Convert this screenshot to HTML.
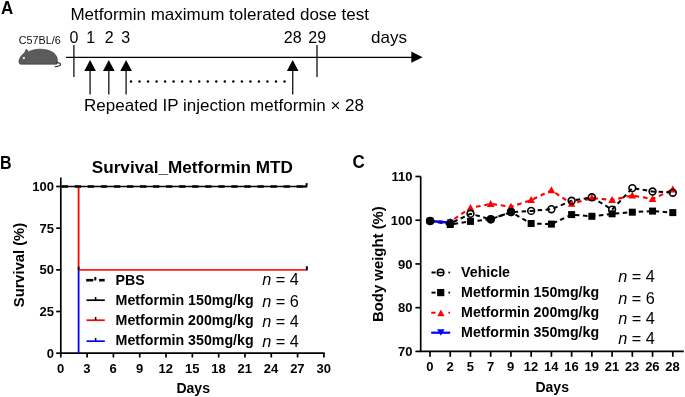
<!DOCTYPE html>
<html><head><meta charset="utf-8"><style>
html,body{margin:0;padding:0;background:#fff;}
svg{display:block;font-family:"Liberation Sans", sans-serif;will-change:transform;}
</style></head><body>
<svg width="685" height="397" viewBox="0 0 685 397">
<rect width="685" height="397" fill="#fff"/>
<text transform="translate(1 13.6) scale(1 1.07)" font-size="17" font-weight="bold">A</text>
<text x="70.4" y="20.1" font-size="17">Metformin maximum tolerated dose test</text>
<text x="18.8" y="43.7" font-size="10.8" fill="#111">C57BL/6</text>
<text x="73.95" y="42.6" font-size="16" text-anchor="middle">0</text>
<text x="90.7" y="42.6" font-size="16" text-anchor="middle">1</text>
<text x="109.2" y="42.6" font-size="16" text-anchor="middle">2</text>
<text x="125.8" y="42.6" font-size="16" text-anchor="middle">3</text>
<text x="292.75" y="42.6" font-size="16" text-anchor="middle">28</text>
<text x="317.25" y="42.6" font-size="16" text-anchor="middle">29</text>
<text x="371.1" y="42.7" font-size="17">days</text>
<line x1="66" y1="57.3" x2="412" y2="57.3" stroke="#000" stroke-width="1.3"/>
<path d="M411.3 51.5 L422.6 57.2 L411.3 62.8 Z" fill="#000"/>
<line x1="73.9" y1="44.9" x2="73.9" y2="77.1" stroke="#111" stroke-width="1.3"/>
<line x1="317" y1="45.1" x2="317" y2="77.1" stroke="#111" stroke-width="1.3"/>
<line x1="90.1" y1="70" x2="90.1" y2="94.6" stroke="#222" stroke-width="1.4"/>
<path d="M90.1 59.9 L95.89999999999999 71 L84.3 71 Z" fill="#000"/>
<line x1="108.8" y1="70" x2="108.8" y2="94.6" stroke="#222" stroke-width="1.4"/>
<path d="M108.8 59.9 L114.6 71 L103.0 71 Z" fill="#000"/>
<line x1="126.1" y1="70" x2="126.1" y2="94.6" stroke="#222" stroke-width="1.4"/>
<path d="M126.1 59.9 L131.9 71 L120.3 71 Z" fill="#000"/>
<line x1="292.7" y1="70" x2="292.7" y2="94.6" stroke="#222" stroke-width="1.4"/>
<path d="M292.7 59.9 L298.5 71 L286.9 71 Z" fill="#000"/>
<circle cx="131.00" cy="81.5" r="1.2" fill="#000"/>
<circle cx="139.53" cy="81.5" r="1.2" fill="#000"/>
<circle cx="148.06" cy="81.5" r="1.2" fill="#000"/>
<circle cx="156.58" cy="81.5" r="1.2" fill="#000"/>
<circle cx="165.11" cy="81.5" r="1.2" fill="#000"/>
<circle cx="173.64" cy="81.5" r="1.2" fill="#000"/>
<circle cx="182.17" cy="81.5" r="1.2" fill="#000"/>
<circle cx="190.69" cy="81.5" r="1.2" fill="#000"/>
<circle cx="199.22" cy="81.5" r="1.2" fill="#000"/>
<circle cx="207.75" cy="81.5" r="1.2" fill="#000"/>
<circle cx="216.28" cy="81.5" r="1.2" fill="#000"/>
<circle cx="224.81" cy="81.5" r="1.2" fill="#000"/>
<circle cx="233.33" cy="81.5" r="1.2" fill="#000"/>
<circle cx="241.86" cy="81.5" r="1.2" fill="#000"/>
<circle cx="250.39" cy="81.5" r="1.2" fill="#000"/>
<circle cx="258.92" cy="81.5" r="1.2" fill="#000"/>
<circle cx="267.44" cy="81.5" r="1.2" fill="#000"/>
<circle cx="275.97" cy="81.5" r="1.2" fill="#000"/>
<circle cx="284.50" cy="81.5" r="1.2" fill="#000"/>
<text x="84.1" y="110.9" font-size="17">Repeated IP injection metformin × 28</text>
<path d="M21 64.2 C19.4 64.2 18.8 62.8 19 60.8 C19.4 58 21.6 55.2 24.8 52.5 L26.3 49 L28.5 51.9 C32 50 35.5 49.2 39.5 49.2 C45 49.2 50 50.3 53.5 52.8 C56.5 55 57.6 58.5 57.4 62 L56.6 64.2 Z" fill="#5b5b5b" stroke="#2a2a2a" stroke-width="0.6"/>
<path d="M56.2 62.6 C58.8 62.6 60.8 63.2 60.5 64.6 C60.2 66 57.2 66.5 54.8 66.8" fill="none" stroke="#222" stroke-width="1.1"/>
<circle cx="23.9" cy="58.1" r="1.1" fill="#fff"/>
<text transform="translate(0.1 168.6) scale(0.9 1)" font-size="17.8" font-weight="bold">B</text>
<text x="91.8" y="172.8" font-size="17.15" font-weight="bold">Survival_Metformin MTD</text>
<line x1="60.8" y1="177.5" x2="60.8" y2="353.2" stroke="#000" stroke-width="1.7"/>
<line x1="59.949999999999996" y1="353.2" x2="324.75" y2="353.2" stroke="#000" stroke-width="1.7"/>
<line x1="56.2" y1="353.20" x2="60.8" y2="353.20" stroke="#000" stroke-width="1.7"/>
<text x="53.9" y="357.80" font-size="13" font-weight="bold" text-anchor="end">0</text>
<line x1="56.2" y1="311.52" x2="60.8" y2="311.52" stroke="#000" stroke-width="1.7"/>
<text x="53.9" y="316.12" font-size="13" font-weight="bold" text-anchor="end">25</text>
<line x1="56.2" y1="269.85" x2="60.8" y2="269.85" stroke="#000" stroke-width="1.7"/>
<text x="53.9" y="274.45" font-size="13" font-weight="bold" text-anchor="end">50</text>
<line x1="56.2" y1="228.17" x2="60.8" y2="228.17" stroke="#000" stroke-width="1.7"/>
<text x="53.9" y="232.77" font-size="13" font-weight="bold" text-anchor="end">75</text>
<line x1="56.2" y1="186.50" x2="60.8" y2="186.50" stroke="#000" stroke-width="1.7"/>
<text x="53.9" y="191.10" font-size="13" font-weight="bold" text-anchor="end">100</text>
<line x1="60.80" y1="353.2" x2="60.80" y2="357.5" stroke="#000" stroke-width="1.7"/>
<text x="60.60" y="372.5" font-size="13" font-weight="bold" text-anchor="middle">0</text>
<line x1="87.11" y1="353.2" x2="87.11" y2="357.5" stroke="#000" stroke-width="1.7"/>
<text x="86.91" y="372.5" font-size="13" font-weight="bold" text-anchor="middle">3</text>
<line x1="113.42" y1="353.2" x2="113.42" y2="357.5" stroke="#000" stroke-width="1.7"/>
<text x="113.22" y="372.5" font-size="13" font-weight="bold" text-anchor="middle">6</text>
<line x1="139.73" y1="353.2" x2="139.73" y2="357.5" stroke="#000" stroke-width="1.7"/>
<text x="139.53" y="372.5" font-size="13" font-weight="bold" text-anchor="middle">9</text>
<line x1="166.04" y1="353.2" x2="166.04" y2="357.5" stroke="#000" stroke-width="1.7"/>
<text x="165.84" y="372.5" font-size="13" font-weight="bold" text-anchor="middle">12</text>
<line x1="192.35" y1="353.2" x2="192.35" y2="357.5" stroke="#000" stroke-width="1.7"/>
<text x="192.15" y="372.5" font-size="13" font-weight="bold" text-anchor="middle">15</text>
<line x1="218.66" y1="353.2" x2="218.66" y2="357.5" stroke="#000" stroke-width="1.7"/>
<text x="218.46" y="372.5" font-size="13" font-weight="bold" text-anchor="middle">18</text>
<line x1="244.97" y1="353.2" x2="244.97" y2="357.5" stroke="#000" stroke-width="1.7"/>
<text x="244.77" y="372.5" font-size="13" font-weight="bold" text-anchor="middle">21</text>
<line x1="271.28" y1="353.2" x2="271.28" y2="357.5" stroke="#000" stroke-width="1.7"/>
<text x="271.08" y="372.5" font-size="13" font-weight="bold" text-anchor="middle">24</text>
<line x1="297.59" y1="353.2" x2="297.59" y2="357.5" stroke="#000" stroke-width="1.7"/>
<text x="297.39" y="372.5" font-size="13" font-weight="bold" text-anchor="middle">27</text>
<line x1="323.90" y1="353.2" x2="323.90" y2="357.5" stroke="#000" stroke-width="1.7"/>
<text x="323.70" y="372.5" font-size="13" font-weight="bold" text-anchor="middle">30</text>
<text x="193.2" y="392.9" font-size="14" font-weight="bold" text-anchor="middle">Days</text>
<text transform="translate(23.8 265.05) rotate(-90)" font-size="14.72" font-weight="bold" text-anchor="middle">Survival (%)</text>
<line x1="78.60" y1="187.5" x2="78.60" y2="269.85" stroke="#f00" stroke-width="1.8"/>
<line x1="77.70" y1="269.85" x2="306.36" y2="269.85" stroke="#ff2020" stroke-width="1.8"/>
<line x1="78.60" y1="270.35" x2="78.60" y2="353.2" stroke="#00f" stroke-width="1.8"/>
<line x1="78.60" y1="266.7" x2="78.60" y2="270.1" stroke="#000" stroke-width="1.8"/>
<line x1="306.86" y1="266.3" x2="306.86" y2="270.4" stroke="#000" stroke-width="2"/>
<line x1="60.8" y1="186.50" x2="306.36" y2="186.50" stroke="#000" stroke-width="1.3"/>
<line x1="61.7" y1="186.50" x2="303.36" y2="186.50" stroke="#000" stroke-width="2.6" stroke-dasharray="6.3 6.75"/>
<path d="M302.36 186.50 L306.36 186.50 L306.76 183.2" fill="none" stroke="#000" stroke-width="2"/>
<line x1="86.2" y1="280.2" x2="93.3" y2="280.2" stroke="#000" stroke-width="2.6"/>
<line x1="99.1" y1="280.2" x2="104.7" y2="280.2" stroke="#000" stroke-width="2.6"/>
<line x1="95.3" y1="277" x2="95.3" y2="280.5" stroke="#000" stroke-width="2"/>
<line x1="86.5" y1="300.2" x2="104.8" y2="300.2" stroke="#000" stroke-width="1.7"/>
<line x1="95.6" y1="297.0" x2="95.6" y2="300.2" stroke="#000" stroke-width="1.5"/>
<line x1="86.5" y1="320.2" x2="104.8" y2="320.2" stroke="#f00" stroke-width="1.7"/>
<line x1="95.6" y1="317.0" x2="95.6" y2="320.2" stroke="#000" stroke-width="1.5"/>
<line x1="86.5" y1="341.2" x2="104.8" y2="341.2" stroke="#00f" stroke-width="1.7"/>
<line x1="95.6" y1="338.0" x2="95.6" y2="341.2" stroke="#000" stroke-width="1.5"/>
<text x="115.6" y="284.7" font-size="14.2" font-weight="bold">PBS</text>
<text x="115.6" y="304.7" font-size="14.2" font-weight="bold">Metformin 150mg/kg</text>
<text x="115.6" y="325" font-size="14.2" font-weight="bold">Metformin 200mg/kg</text>
<text x="115.6" y="345.4" font-size="14.2" font-weight="bold">Metformin 350mg/kg</text>
<text x="262.2" y="284.8" font-size="16.3"><tspan font-style="italic">n</tspan> = 4</text>
<text x="262.2" y="306.5" font-size="16.3"><tspan font-style="italic">n</tspan> = 6</text>
<text x="262.2" y="326.7" font-size="16.3"><tspan font-style="italic">n</tspan> = 4</text>
<text x="262.2" y="346.6" font-size="16.3"><tspan font-style="italic">n</tspan> = 4</text>
<text transform="translate(352.5 167.9) scale(1 1.04)" font-size="17" font-weight="bold">C</text>
<line x1="420.7" y1="176.5" x2="420.7" y2="351.4" stroke="#000" stroke-width="1.7"/>
<line x1="419.84999999999997" y1="351.4" x2="683.8" y2="351.4" stroke="#000" stroke-width="1.7"/>
<line x1="415.4" y1="351.40" x2="420.7" y2="351.40" stroke="#000" stroke-width="1.7"/>
<text x="412.5" y="356.00" font-size="13" font-weight="bold" text-anchor="end">70</text>
<line x1="415.4" y1="307.67" x2="420.7" y2="307.67" stroke="#000" stroke-width="1.7"/>
<text x="412.5" y="312.27" font-size="13" font-weight="bold" text-anchor="end">80</text>
<line x1="415.4" y1="263.95" x2="420.7" y2="263.95" stroke="#000" stroke-width="1.7"/>
<text x="412.5" y="268.55" font-size="13" font-weight="bold" text-anchor="end">90</text>
<line x1="415.4" y1="220.22" x2="420.7" y2="220.22" stroke="#000" stroke-width="1.7"/>
<text x="412.5" y="224.82" font-size="13" font-weight="bold" text-anchor="end">100</text>
<line x1="415.4" y1="176.50" x2="420.7" y2="176.50" stroke="#000" stroke-width="1.7"/>
<text x="412.5" y="181.10" font-size="13" font-weight="bold" text-anchor="end">110</text>
<line x1="430.00" y1="351.4" x2="430.00" y2="356.8" stroke="#000" stroke-width="1.7"/>
<text x="429.80" y="370.8" font-size="13" font-weight="bold" text-anchor="middle">0</text>
<line x1="450.23" y1="351.4" x2="450.23" y2="356.8" stroke="#000" stroke-width="1.7"/>
<text x="450.03" y="370.8" font-size="13" font-weight="bold" text-anchor="middle">2</text>
<line x1="470.47" y1="351.4" x2="470.47" y2="356.8" stroke="#000" stroke-width="1.7"/>
<text x="470.27" y="370.8" font-size="13" font-weight="bold" text-anchor="middle">5</text>
<line x1="490.70" y1="351.4" x2="490.70" y2="356.8" stroke="#000" stroke-width="1.7"/>
<text x="490.50" y="370.8" font-size="13" font-weight="bold" text-anchor="middle">7</text>
<line x1="510.93" y1="351.4" x2="510.93" y2="356.8" stroke="#000" stroke-width="1.7"/>
<text x="510.73" y="370.8" font-size="13" font-weight="bold" text-anchor="middle">9</text>
<line x1="531.16" y1="351.4" x2="531.16" y2="356.8" stroke="#000" stroke-width="1.7"/>
<text x="530.96" y="370.8" font-size="13" font-weight="bold" text-anchor="middle">12</text>
<line x1="551.40" y1="351.4" x2="551.40" y2="356.8" stroke="#000" stroke-width="1.7"/>
<text x="551.20" y="370.8" font-size="13" font-weight="bold" text-anchor="middle">14</text>
<line x1="571.63" y1="351.4" x2="571.63" y2="356.8" stroke="#000" stroke-width="1.7"/>
<text x="571.43" y="370.8" font-size="13" font-weight="bold" text-anchor="middle">16</text>
<line x1="591.86" y1="351.4" x2="591.86" y2="356.8" stroke="#000" stroke-width="1.7"/>
<text x="591.66" y="370.8" font-size="13" font-weight="bold" text-anchor="middle">19</text>
<line x1="612.10" y1="351.4" x2="612.10" y2="356.8" stroke="#000" stroke-width="1.7"/>
<text x="611.90" y="370.8" font-size="13" font-weight="bold" text-anchor="middle">21</text>
<line x1="632.33" y1="351.4" x2="632.33" y2="356.8" stroke="#000" stroke-width="1.7"/>
<text x="632.13" y="370.8" font-size="13" font-weight="bold" text-anchor="middle">23</text>
<line x1="652.56" y1="351.4" x2="652.56" y2="356.8" stroke="#000" stroke-width="1.7"/>
<text x="652.36" y="370.8" font-size="13" font-weight="bold" text-anchor="middle">26</text>
<line x1="672.80" y1="351.4" x2="672.80" y2="356.8" stroke="#000" stroke-width="1.7"/>
<text x="672.60" y="370.8" font-size="13" font-weight="bold" text-anchor="middle">28</text>
<text x="552.2" y="391.6" font-size="14" font-weight="bold" text-anchor="middle">Days</text>
<text transform="translate(382.6 264.1) rotate(-90)" font-size="14.9" font-weight="bold" text-anchor="middle">Body weight (%)</text>
<polyline points="430.00,221.00 450.23,221.80 470.47,207.90 490.70,203.90 510.93,206.70 531.16,200.10 551.40,190.30 571.63,203.80 591.86,198.00 612.10,200.00 632.33,195.50 652.56,199.00 672.80,189.60" fill="none" stroke="#f00" stroke-width="2.1" stroke-dasharray="4.6 3.8"/>
<polyline points="430.00,221.00 450.23,224.50 470.47,221.40 490.70,219.30 510.93,212.10 531.16,223.50 551.40,224.10 571.63,214.60 591.86,216.30 612.10,213.80 632.33,212.20 652.56,211.10 672.80,212.60" fill="none" stroke="#000" stroke-width="2" stroke-dasharray="4.5 3.5"/>
<polyline points="430.00,221.00 450.23,223.50 470.47,213.80 490.70,219.30 510.93,212.10 531.16,210.90 551.40,209.20 571.63,200.80 591.86,197.30 612.10,209.60 632.33,188.10 652.56,191.50 672.80,192.70" fill="none" stroke="#000" stroke-width="2" stroke-dasharray="4.5 3.5"/>
<polyline points="430.00,221.00 450.23,222.80" fill="none" stroke="#00f" stroke-width="2.6"/>
<path d="M430.00 217.00 L433.80 224.00 L426.20 224.00 Z" fill="#f00"/>
<path d="M450.23 217.80 L454.03 224.80 L446.43 224.80 Z" fill="#f00"/>
<path d="M470.47 203.90 L474.27 210.90 L466.67 210.90 Z" fill="#f00"/>
<path d="M490.70 199.90 L494.50 206.90 L486.90 206.90 Z" fill="#f00"/>
<path d="M510.93 202.70 L514.73 209.70 L507.13 209.70 Z" fill="#f00"/>
<path d="M531.16 196.10 L534.96 203.10 L527.37 203.10 Z" fill="#f00"/>
<path d="M551.40 186.30 L555.20 193.30 L547.60 193.30 Z" fill="#f00"/>
<path d="M571.63 199.80 L575.43 206.80 L567.83 206.80 Z" fill="#f00"/>
<path d="M591.86 194.00 L595.66 201.00 L588.06 201.00 Z" fill="#f00"/>
<path d="M612.10 196.00 L615.90 203.00 L608.30 203.00 Z" fill="#f00"/>
<path d="M632.33 191.50 L636.13 198.50 L628.53 198.50 Z" fill="#f00"/>
<path d="M652.56 195.00 L656.36 202.00 L648.76 202.00 Z" fill="#f00"/>
<path d="M672.80 185.60 L676.60 192.60 L669.00 192.60 Z" fill="#f00"/>
<path d="M426.30 217.70 L433.70 217.70 L430.00 224.20 Z" fill="#00f"/>
<path d="M446.53 219.50 L453.93 219.50 L450.23 226.00 Z" fill="#00f"/>
<rect x="446.73" y="221.00" width="7" height="7" fill="#000"/>
<rect x="466.97" y="217.90" width="7" height="7" fill="#000"/>
<rect x="527.66" y="220.00" width="7" height="7" fill="#000"/>
<rect x="547.90" y="220.60" width="7" height="7" fill="#000"/>
<rect x="568.13" y="211.10" width="7" height="7" fill="#000"/>
<rect x="588.36" y="212.80" width="7" height="7" fill="#000"/>
<rect x="608.60" y="210.30" width="7" height="7" fill="#000"/>
<rect x="628.83" y="208.70" width="7" height="7" fill="#000"/>
<rect x="649.06" y="207.60" width="7" height="7" fill="#000"/>
<rect x="669.30" y="209.10" width="7" height="7" fill="#000"/>
<circle cx="430.00" cy="221.00" r="3.4" fill="none" stroke="#000" stroke-width="1.6"/>
<circle cx="450.23" cy="223.50" r="3.4" fill="none" stroke="#000" stroke-width="1.6"/>
<circle cx="470.47" cy="213.80" r="3.4" fill="none" stroke="#000" stroke-width="1.6"/>
<circle cx="490.70" cy="219.30" r="3.4" fill="none" stroke="#000" stroke-width="1.6"/>
<circle cx="510.93" cy="212.10" r="3.4" fill="none" stroke="#000" stroke-width="1.6"/>
<circle cx="531.16" cy="210.90" r="3.4" fill="none" stroke="#000" stroke-width="1.6"/>
<circle cx="551.40" cy="209.20" r="3.4" fill="none" stroke="#000" stroke-width="1.6"/>
<circle cx="571.63" cy="200.80" r="3.4" fill="none" stroke="#000" stroke-width="1.6"/>
<circle cx="591.86" cy="197.30" r="3.4" fill="none" stroke="#000" stroke-width="1.6"/>
<circle cx="612.10" cy="209.60" r="3.4" fill="none" stroke="#000" stroke-width="1.6"/>
<circle cx="632.33" cy="188.10" r="3.4" fill="none" stroke="#000" stroke-width="1.6"/>
<circle cx="652.56" cy="191.50" r="3.4" fill="none" stroke="#000" stroke-width="1.6"/>
<circle cx="672.80" cy="192.70" r="3.4" fill="none" stroke="#000" stroke-width="1.6"/>
<circle cx="430.20" cy="221.00" r="4.1" fill="#000"/>
<circle cx="490.90" cy="219.30" r="4.1" fill="#000"/>
<circle cx="511.13" cy="212.10" r="4.1" fill="#000"/>
<line x1="431.5" y1="272.5" x2="435.6" y2="272.5" stroke="#000" stroke-width="2"/>
<line x1="437" y1="272.5" x2="444" y2="272.5" stroke="#000" stroke-width="1.6"/>
<circle cx="440.6" cy="272.5" r="3.3" fill="none" stroke="#000" stroke-width="1.5"/>
<rect x="448.4" y="271.6" width="1.7" height="1.8" fill="#000"/>
<line x1="431.5" y1="292.6" x2="435.6" y2="292.6" stroke="#000" stroke-width="2"/>
<rect x="437.1" y="289" width="7.2" height="7.2" fill="#000"/>
<rect x="448.4" y="291.7" width="1.7" height="1.8" fill="#000"/>
<line x1="431.2" y1="312.7" x2="435.6" y2="312.7" stroke="#f00" stroke-width="2"/>
<path d="M440.9 309.6 L444.6 316.3 L437.3 316.3 Z" fill="#f00"/>
<rect x="448.4" y="311.8" width="1.7" height="1.8" fill="#f00"/>
<line x1="431.2" y1="332.7" x2="450.2" y2="332.7" stroke="#00f" stroke-width="2.2"/>
<path d="M437.1 329.2 L444.6 329.2 L440.85 335.8 Z" fill="#00f"/>
<text x="461.1" y="276.9" font-size="14.2" font-weight="bold">Vehicle</text>
<text x="461.1" y="297.2" font-size="14.2" font-weight="bold">Metformin 150mg/kg</text>
<text x="461.1" y="317.3" font-size="14.2" font-weight="bold">Metformin 200mg/kg</text>
<text x="461.1" y="337.2" font-size="14.2" font-weight="bold">Metformin 350mg/kg</text>
<text x="618.2" y="282.1" font-size="16.3"><tspan font-style="italic">n</tspan> = 4</text>
<text x="618.2" y="304.2" font-size="16.3"><tspan font-style="italic">n</tspan> = 6</text>
<text x="618.2" y="324.3" font-size="16.3"><tspan font-style="italic">n</tspan> = 4</text>
<text x="618.2" y="343.7" font-size="16.3"><tspan font-style="italic">n</tspan> = 4</text>
</svg>
</body></html>
